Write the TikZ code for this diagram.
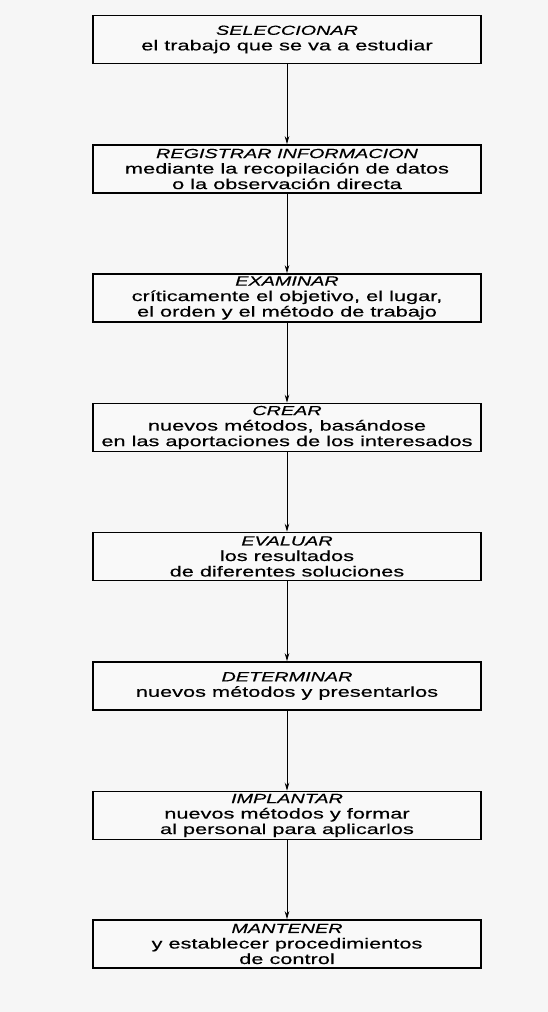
\documentclass[tikz,border=0pt]{standalone}
\usepackage{fontspec}
\setmainfont{Liberation Sans}[FakeStretch=1.5,FakeBold=0.4]
\usetikzlibrary{arrows.meta}

\tikzset{
  stagebox/.style={draw=black, line width=1.6pt, fill=gray!5,
    minimum width=388pt, minimum height=48pt, inner sep=0pt,
    align=center, font=\fontsize{14.5}{15.5}\selectfont},
  flow/.style={draw=black, line width=0.9pt,
    -{Stealth[length=8pt,width=4.5pt]}}
}
\newcommand{\stagehead}[1]{{\fontsize{13.2}{15.5}\selectfont\itshape #1}}

\begin{document}
\begin{tikzpicture}[x=1pt,y=1pt]
  % page
  \fill[gray!7] (0,0) rectangle (548,-1012);
  \useasboundingbox (0,0) rectangle (548,-1012);

  \node[stagebox] (sel) at (287,-39.5)
    {\stagehead{SELECCIONAR}\\el trabajo que se va a estudiar};
  \node[stagebox] (reg) at (287,-169)
    {\stagehead{REGISTRAR INFORMACION}\\mediante la recopilación de datos\\o la observación directa};
  \node[stagebox] (exa) at (287,-298)
    {\stagehead{EXAMINAR}\\críticamente el objetivo, el lugar,\\el orden y el método de trabajo};
  \node[stagebox] (cre) at (287,-427.5)
    {\stagehead{CREAR}\\nuevos métodos, basándose\\en las aportaciones de los interesados};
  \node[stagebox] (eva) at (287,-556.5)
    {\stagehead{EVALUAR}\\los resultados\\de diferentes soluciones};
  \node[stagebox] (det) at (287,-686)
    {\stagehead{DETERMINAR}\\nuevos métodos y presentarlos};
  \node[stagebox] (imp) at (287,-815.5)
    {\stagehead{IMPLANTAR}\\nuevos métodos y formar\\al personal para aplicarlos};
  \node[stagebox] (man) at (287,-944)
    {\stagehead{MANTENER}\\y establecer procedimientos\\de control};

  \draw[flow] (sel) -- (reg);
  \draw[flow] (reg) -- (exa);
  \draw[flow] (exa) -- (cre);
  \draw[flow] (cre) -- (eva);
  \draw[flow] (eva) -- (det);
  \draw[flow] (det) -- (imp);
  \draw[flow] (imp) -- (man);
\end{tikzpicture}
\end{document}
